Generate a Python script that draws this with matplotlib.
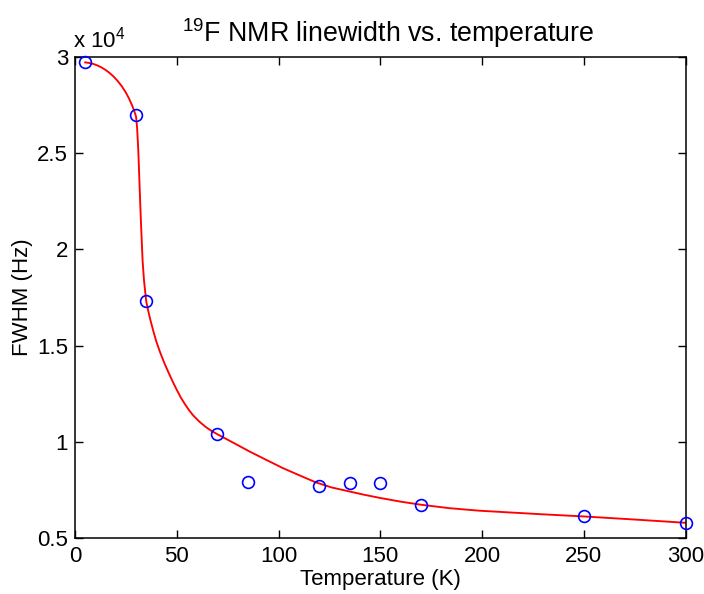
import matplotlib
matplotlib.use("Agg")
import matplotlib.pyplot as plt
from matplotlib.ticker import FixedLocator, FixedFormatter

plt.rcParams['font.family'] = ['Liberation Sans', 'DejaVu Sans']
plt.rcParams['mathtext.fontset'] = 'custom'
plt.rcParams['mathtext.rm'] = 'Liberation Sans'
plt.rcParams['mathtext.it'] = 'Liberation Sans'

# Measured linewidths
temperature_K = [5, 30, 35, 70, 85, 120, 135, 150, 170, 250, 300]
fwhm_Hz = [29720, 27010, 17300, 10400, 7910, 7690, 7850, 7850, 6730, 6130, 5770]

# Fitted curve, sampled along the temperature axis
fit_T = [5, 7, 9, 11, 13, 15, 17, 19, 21, 23, 25, 26.5, 28, 29, 30,
         30.5, 31.1, 31.6, 32.3, 32.8, 33.2, 33.9, 35, 36, 37, 38.5, 40,
         42, 44, 46, 48, 50, 52, 54, 56, 58, 61, 64, 67, 70, 78, 85.7,
         94, 102, 110, 118.4, 126, 134.8, 142, 150, 160, 170, 184, 198.5,
         215, 230, 250, 275, 300]
fit_Hz = [29720, 29690, 29640, 29560, 29460, 29330, 29170, 28980, 28750,
          28480, 28150, 27850, 27500, 27230, 26900,
          26350, 25150, 23700, 21690, 20450, 19440, 18400, 17300, 16800,
          16350, 15750, 15200,
          14600, 14070, 13590, 13130, 12700, 12300, 11960, 11650, 11380,
          11060, 10790, 10570, 10390, 9940, 9500,
          9060, 8640, 8270, 7890, 7630, 7420, 7250, 7080, 6890, 6730, 6550,
          6420, 6320, 6230, 6120, 5960, 5790]

y_ticks = [5000, 10000, 15000, 20000, 25000, 30000]
y_tick_labels = ['0.5', '1', '1.5', '2', '2.5', '3']
x_ticks = [0, 50, 100, 150, 200, 250, 300]

fig = plt.figure(figsize=(7.04, 5.94), dpi=100)
ax = fig.add_axes([75 / 704, 1 - 538 / 594, 610.5 / 704, 481 / 594])

ax.plot(fit_T, fit_Hz, color='red', lw=1.35, zorder=2)
ax.plot(temperature_K, fwhm_Hz, linestyle='none', marker='o', ms=8.5,
        mfc='none', mec='blue', mew=1.2, zorder=3, clip_on=False)

ax.set_xlim(0, 300)
ax.set_ylim(5000, 30000)
ax.xaxis.set_major_locator(FixedLocator(x_ticks))
ax.yaxis.set_major_locator(FixedLocator(y_ticks))
ax.yaxis.set_major_formatter(FixedFormatter(y_tick_labels))

ax.tick_params(direction='in', length=6, width=1, top=True, right=True,
               labelsize=16)
ax.tick_params(axis='x', pad=6)
ax.tick_params(axis='y', pad=5)
for s in ax.spines.values():
    s.set_linewidth(1.1)

ax.set_xlabel('Temperature (K)', fontsize=16, labelpad=1)
ax.set_ylabel('FWHM (Hz)', fontsize=16, labelpad=3)
ax.set_title(r'$^{19}$F NMR linewidth vs. temperature', fontsize=19.3,
             pad=11, x=0.513)
ax.text(-0.003, 1.01, r'x 10$^{4}$', transform=ax.transAxes, fontsize=16,
        ha='left', va='bottom')

fig.savefig('out.png', dpi=100)
